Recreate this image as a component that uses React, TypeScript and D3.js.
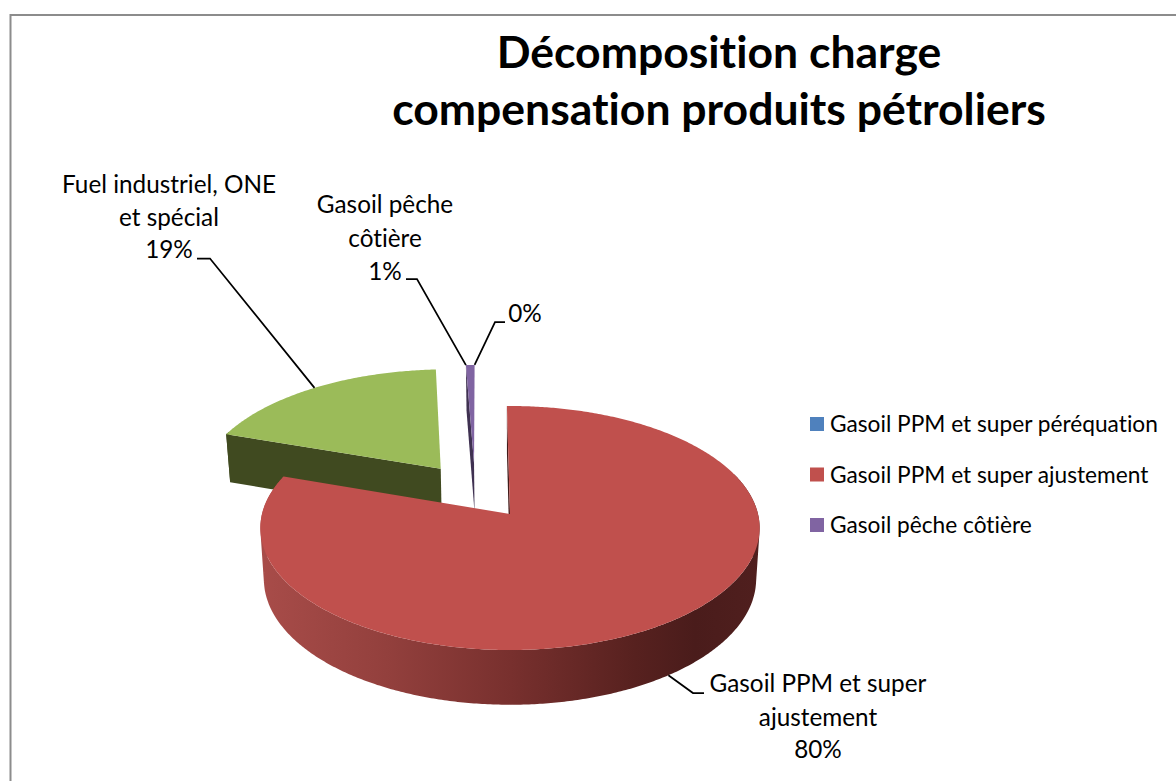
import * as d3 from 'd3';

// Slices in drawing order of the source chart (percent of the total)
const categories = [
    'Gasoil PPM et super péréquation',
    'Gasoil PPM et super ajustement',
    'Fuel industriel, ONE et spécial',
    'Gasoil pêche côtière',
];
const shares = [0, 80.45, 18.9, 0.65];
const legendNames = [
    'Gasoil PPM et super péréquation',
    'Gasoil PPM et super ajustement',
    'Gasoil pêche côtière',
];
const titleLines = ['Décomposition charge', 'compensation produits pétroliers'];

const topColors = ['#4f81bd', '#c0504d', '#9bbb59', '#8064a2'];
const wallColors = ['#2a4563', '#421b1a', '#404a20', '#3f3151'];
const legendColors = ['#4f81bd', '#c0504d', '#8064a2'];

const WIDTH = 1176;
const HEIGHT = 781;
const FONT = 'Lato, Carlito, "Noto Sans", sans-serif';

// Projection of the pie disc: screen position of the red slice's tip, plus perspective
const TIP_X = 510;
const TIP_Y = 514;
const RADIUS = 248;
const PERSP = 0.1148;
const Y_SLOPE = -61.4;
const DEPTH = 50.5;
const EXPLODE = 0.245;
const START_ANGLE = (-0.8 * Math.PI) / 180;

type Pt = [number, number];

const slices = d3
    .pie<number>()
    .sort(null)
    .value((d) => d)
    .startAngle(START_ANGLE)
    .endAngle(START_ANGLE + 2 * Math.PI)(shares);

const midAngle = (i: number) => (slices[i].startAngle + slices[i].endAngle) / 2;
const redMid = midAngle(1);

// disc coordinates of a point of slice i, then screen coordinates
const project = (i: number, r: number, angle: number, lower = false): Pt => {
    const mid = midAngle(i);
    const u = (EXPLODE * (Math.sin(mid) - Math.sin(redMid))) + r * Math.sin(angle);
    const v = (EXPLODE * (Math.cos(mid) - Math.cos(redMid))) + r * Math.cos(angle);
    const w = 1 + PERSP * v;
    const x = (RADIUS * u) / w;
    const y = (Y_SLOPE * v + TIP_Y) / w;
    if (!lower) return [TIP_X + x, y];
    return [TIP_X + x * 0.986, y + DEPTH / Math.pow(w, 0.66)];
};

const line = d3.line<Pt>();
const closed = (pts: Pt[]) => line(pts) + 'Z';

const arcAngles = (i: number) => {
    const { startAngle, endAngle } = slices[i];
    const n = Math.max(2, Math.ceil((endAngle - startAngle) / 0.01));
    return d3.range(n + 1).map((k) => startAngle + ((endAngle - startAngle) * k) / n);
};

const topPath = (i: number) =>
    closed([project(i, 0, 0), ...arcAngles(i).map((a) => project(i, 1, a))]);

// the rim as a strip of quads, all wound the same way so the overlaps do not cancel.
// Only the part facing the viewer, the back of the rim is never seen
const rimWall = (i: number) =>
    d3
        .pairs(arcAngles(i))
        .filter(([a]) => Math.cos(a) < 0.35)
        .map(([a, b]) => {
            const quad: Pt[] = [project(i, 1, a), project(i, 1, b), project(i, 1, b, true), project(i, 1, a, true)];
            return closed(d3.polygonArea(quad) < 0 ? quad.reverse() : quad);
        })
        .join('');

const edgeWall = (i: number, angle: number) =>
    closed([
        project(i, 0, 0),
        project(i, 1, angle),
        project(i, 1, angle, true),
        project(i, 0, 0, true),
    ]);

// Leader lines: label end, elbow, then the anchor on the slice
const leaders: Pt[][] = [
    [[197, 258.5], [210, 258.5], project(2, 1, midAngle(2))],
    [[406, 279], [417, 279], project(3, 1, slices[3].startAngle)],
    [[505, 322], [495, 322], project(3, 1, slices[3].endAngle)],
    [[704, 693], [693, 693], project(1, 1, redMid, true)],
];

const pct = (i: number) => d3.format('.0%')(shares[i] / d3.sum(shares));

const labels = [
    { x: 169, lines: [{ t: 'Fuel industriel, ONE', y: 193 }, { t: 'et spécial', y: 226 }, { t: pct(2), y: 258 }] },
    { x: 385, lines: [{ t: 'Gasoil pêche', y: 213 }, { t: 'côtière', y: 247 }, { t: pct(3), y: 280 }] },
    { x: 525, lines: [{ t: pct(0), y: 322 }] },
    { x: 818, lines: [{ t: 'Gasoil PPM et super', y: 692 }, { t: 'ajustement', y: 726 }, { t: pct(1), y: 758 }] },
];

const legendY = d3.scalePoint<string>().domain(legendNames).range([424, 525]);

const noLigatures = { fontVariantLigatures: 'none' } as const;

const App = () => (
    <svg
        width={WIDTH}
        height={HEIGHT}
        style={{ position: 'absolute', left: 0, top: 0, background: '#fff', ...noLigatures }}
        fontFamily={FONT}
    >
        <title>{categories.join(', ')}</title>
        <defs>
            <linearGradient id="redWall" gradientUnits="userSpaceOnUse" x1={261} x2={760} y1={0} y2={0}>
                <stop offset="0" stopColor="#a84c49" />
                <stop offset="0.25" stopColor="#93403d" />
                <stop offset="0.5" stopColor="#78302e" />
                <stop offset="0.75" stopColor="#57211f" />
                <stop offset="0.87" stopColor="#4a1c1b" />
                <stop offset="1" stopColor="#501f1e" />
            </linearGradient>
        </defs>

        {/* chart frame, cut by the right and bottom of the picture */}
        <path d="M10.5,781V15H1176" fill="none" stroke="#8c8c8c" strokeWidth={2} />

        {titleLines.map((t, i) => (
            <text key={t} x={719} y={68 + i * 57} textAnchor="middle" fontSize={44.5} fontWeight={700} fill="#000">
                {t}
            </text>
        ))}

        {/* back slices first, the big red one covers them */}
        {[2, 3, 0, 1].map((i) =>
            shares[i] > 0 ? (
                <g key={categories[i]}>
                    <path d={rimWall(i)} fill={i === 1 ? 'url(#redWall)' : wallColors[i]} />
                    <path d={edgeWall(i, slices[i].startAngle)} fill={wallColors[i]} />
                    <path d={topPath(i)} fill={topColors[i]} />
                </g>
            ) : null
        )}

        {leaders.map((pts, i) => (
            <path key={i} d={line(pts)!} fill="none" stroke="#000" strokeWidth={1.75} />
        ))}

        {labels.map((l, i) =>
            l.lines.map((row) => (
                <text key={i + row.t} x={l.x} y={row.y} textAnchor="middle" fontSize={24.3} fill="#000">
                    {row.t}
                </text>
            ))
        )}

        {legendNames.map((name, i) => (
            <g key={name}>
                <rect x={810} y={legendY(name)! - 7} width={14} height={14} fill={legendColors[i]} />
                <text x={830} y={legendY(name)! + 8} fontSize={22.7} fill="#000">
                    {name}
                </text>
            </g>
        ))}
    </svg>
);

export default App;
